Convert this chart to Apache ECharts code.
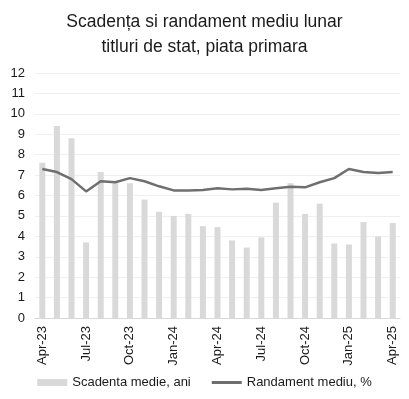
<!DOCTYPE html>
<html>
<head>
<meta charset="utf-8">
<script src="https://cdn.jsdelivr.net/npm/echarts@6/dist/echarts.min.js"></script>
<style>
html, body { margin: 0; padding: 0; background: #fff; }
#chart { width: 409px; height: 399px; }
</style>
</head>
<body>
<div id="chart"></div>
<script>
var months = ['Apr-23','May-23','Jun-23','Jul-23','Aug-23','Sep-23','Oct-23','Nov-23','Dec-23',
    'Jan-24','Feb-24','Mar-24','Apr-24','May-24','Jun-24','Jul-24','Aug-24','Sep-24',
    'Oct-24','Nov-24','Dec-24','Jan-25','Feb-25','Mar-25','Apr-25'];
var scadenta = [7.6, 9.4, 8.8, 3.7, 7.15, 6.6, 6.6, 5.8, 5.2, 5.0, 5.1, 4.5, 4.45,
    3.8, 3.45, 3.95, 5.65, 6.6, 5.1, 5.6, 3.65, 3.6, 4.7, 4.0, 4.65];
var randament = [7.3, 7.15, 6.8, 6.2, 6.7, 6.65, 6.85, 6.7, 6.45, 6.25, 6.25, 6.27, 6.35,
    6.3, 6.33, 6.27, 6.35, 6.43, 6.4, 6.65, 6.85, 7.3, 7.15, 7.1, 7.15];
var yTicks = [0, 12, 1];

echarts.init(document.getElementById('chart')).setOption({
    textStyle: { fontFamily: 'Liberation Sans, Arial, sans-serif' },
    title: {
        text: 'Scadența si randament mediu lunar\ntitluri de stat, piata primara',
        left: 'center',
        top: 5,
        textStyle: {
            color: '#1a1a1a',
            fontSize: 17.5,
            fontWeight: 'normal',
            lineHeight: 25
        }
    },
    legend: {
        bottom: 5,
        left: 'center',
        itemGap: 21,
        itemWidth: 30,
        itemHeight: 7,
        textStyle: { color: '#1a1a1a', fontSize: 13 },
        data: [
            { name: 'Scadenta medie, ani', icon: 'rect' },
            { name: 'Randament mediu, %', icon: 'path://M0,0 L30,0 L30,3 L0,3 Z' }
        ]
    },
    grid: {
        left: 35,
        right: 9,
        top: 73,
        bottom: 81
    },
    xAxis: {
        type: 'category',
        data: months,
        axisTick: { show: false },
        axisLine: { lineStyle: { color: '#d9d9d9', width: 1 } },
        axisLabel: {
            interval: 2,
            rotate: 90,
            color: '#1a1a1a',
            fontSize: 13,
            margin: 8
        }
    },
    yAxis: {
        type: 'value',
        min: yTicks[0],
        max: yTicks[1],
        interval: yTicks[2],
        axisLine: { show: false },
        axisTick: { show: false },
        splitLine: { lineStyle: { color: '#efefef', width: 1 } },
        axisLabel: { color: '#1a1a1a', fontSize: 13, margin: 10 }
    },
    series: [
        {
            name: 'Scadenta medie, ani',
            type: 'bar',
            data: scadenta,
            barWidth: 6,
            itemStyle: { color: '#d9d9d9' }
        },
        {
            name: 'Randament mediu, %',
            type: 'line',
            data: randament,
            symbol: 'none',
            lineStyle: { color: '#6f6f6f', width: 2.5 },
            itemStyle: { color: '#6f6f6f' }
        }
    ]
});
</script>
</body>
</html>
